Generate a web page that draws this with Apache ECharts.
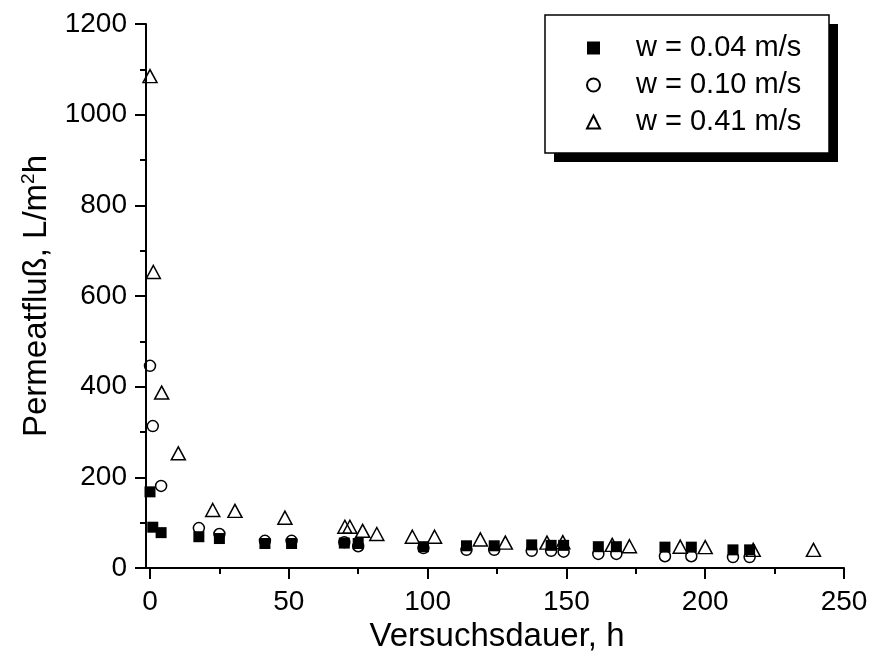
<!DOCTYPE html>
<html>
<head>
<meta charset="utf-8">
<title>Permeatfluss</title>
<script src="https://cdn.jsdelivr.net/npm/echarts@6/dist/echarts.min.js"></script>
<style>
	html,body{margin:0;padding:0;background:#fff;}
	#flux_watch{width:871px;height:666px;}
</style>
</head>
<body>
<div id="flux_watch"></div>
<script>
// Versuchsdauer (h) und Permeatfluss (L/m2h)
var legendNames = ['w = 0.04 m/s', 'w = 0.10 m/s', 'w = 0.41 m/s'];

var time004 = [0, 1, 4, 17.6, 25, 41.4, 51, 70, 75, 98.5, 114, 124, 137.5, 144.5, 149, 161.5, 168, 185.5, 195, 210, 216];
var flux004 = [168, 90, 78, 69, 65, 54, 54, 55, 54, 47, 49, 49, 51, 50, 50, 47, 47, 46, 46, 40, 40];

var time010 = [0, 1, 4, 17.6, 25, 41.4, 51, 70, 75, 98.5, 114, 124, 137.5, 144.5, 149, 161.5, 168, 185.5, 195, 210, 216];
var flux010 = [446, 313, 181, 88, 75, 60, 60, 57, 48, 44, 40, 40, 38, 38, 36, 31, 31, 26, 26, 24, 24];

var time041 = [0, 1.2, 4.2, 10.2, 22.6, 30.6, 48.6, 70.2, 72, 76.6, 81.7, 94.5, 102.5, 119, 128, 143, 148.7, 166.5, 172.7, 191, 200, 217.3, 239];
var flux041 = [1085, 653, 387, 253, 128, 126, 111, 91, 91, 82, 75, 69, 69, 63, 56, 56, 57, 51, 48, 47, 46, 40, 40];

var xTicks = {min: 0, max: 250, step: 50};
var yTicks = {min: 0, max: 1200, step: 200};

window.onload = function(){
	fluxUtil.init();
};

var fluxUtil = {
	init:function(){
		echartsView();
	}
};

function toPairs(xs, ys){
	var list = [];
	for(var i=0;i<xs.length;i++){
		list.push([xs[i], ys[i]]);
	}
	return list;
}

function plainNumber(v){
	return String(v);
}

//echart视图部分
function echartsView(){
	var myChart = echarts.init(document.getElementById('flux_watch'));
	var font = 'Liberation Sans, Arial, sans-serif';
	var axisLine = {onZero: false, lineStyle: {color: '#000', width: 2}};
	var tick = {show: true, inside: false, length: 11, lineStyle: {color: '#000', width: 2}};
	var minor = {show: true, splitNumber: 2, length: 6, lineStyle: {color: '#000', width: 2}};

	var voption = {
		animation: false,
		textStyle: {fontFamily: font, color: '#000'},
		grid: {left: 150, right: 27, top: 24, bottom: 98},
		// 图例框和阴影, x轴左端补齐到y轴
		graphic: [
			{type: 'rect', z: 1, shape: {x: 554, y: 24, width: 284, height: 138}, style: {fill: '#000'}},
			{type: 'rect', z: 2, shape: {x: 545, y: 15, width: 284, height: 138}, style: {fill: '#fff', stroke: '#000', lineWidth: 1.5}},
			{type: 'line', z: 2, shape: {x1: 145, y1: 568, x2: 151, y2: 568}, style: {stroke: '#000', lineWidth: 2}}
		],
		legend: {
			data: legendNames,
			orient: 'vertical',
			left: 586,
			top: 33,
			padding: 0,
			z: 10,
			itemGap: 7,
			itemWidth: 13,
			itemHeight: 13,
			symbolKeepAspect: true,
			textStyle: {fontFamily: font, fontSize: 29, lineHeight: 30, color: '#000', padding: [0, 0, 0, 31]}
		},
		xAxis: {
			type: 'value',
			min: xTicks.min,
			max: xTicks.max,
			interval: xTicks.step,
			name: 'Versuchsdauer, h',
			nameLocation: 'middle',
			nameGap: 27,
			nameTextStyle: {fontFamily: font, fontSize: 33, color: '#000'},
			axisLine: axisLine,
			axisTick: tick,
			minorTick: minor,
			axisLabel: {fontFamily: font, fontSize: 28, color: '#000', margin: 20, formatter: plainNumber},
			splitLine: {show: false}
		},
		yAxis: {
			type: 'value',
			min: yTicks.min,
			max: yTicks.max,
			interval: yTicks.step,
			offset: 4,
			name: '{a|Permeatfluß, L/m}{s|2}{a|h}',
			nameLocation: 'middle',
			nameRotate: 90,
			nameGap: 88,
			nameTextStyle: {
				rich: {
					a: {fontFamily: font, fontSize: 33, color: '#000', lineHeight: 36},
					s: {fontFamily: font, fontSize: 19, color: '#000', verticalAlign: 'top', lineHeight: 36, padding: [0, 0, 14, 0]}
				}
			},
			axisLine: axisLine,
			axisTick: tick,
			minorTick: minor,
			axisLabel: {fontFamily: font, fontSize: 28, color: '#000', margin: 19, formatter: plainNumber},
			splitLine: {show: false}
		},
		series: [
			{
				name: legendNames[0],
				type: 'scatter',
				symbol: 'rect',
				symbolSize: 11,
				z: 5,
				itemStyle: {color: '#000', opacity: 1},
				data: toPairs(time004, flux004)
			},
			{
				name: legendNames[1],
				type: 'scatter',
				symbol: 'circle',
				symbolSize: 11,
				z: 3,
				itemStyle: {color: 'rgba(255,255,255,0)', borderColor: '#000', borderWidth: 1.5, opacity: 1},
				data: toPairs(time010, flux010)
			},
			{
				name: legendNames[2],
				type: 'scatter',
				symbol: 'triangle',
				symbolSize: [14, 13],
				z: 2,
				itemStyle: {color: 'rgba(255,255,255,0)', borderColor: '#000', borderWidth: 1.5, opacity: 1},
				data: toPairs(time041, flux041)
			}
		]
	};

	// 为echarts对象加载数据
	myChart.setOption(voption);
}
</script>
</body>
</html>
